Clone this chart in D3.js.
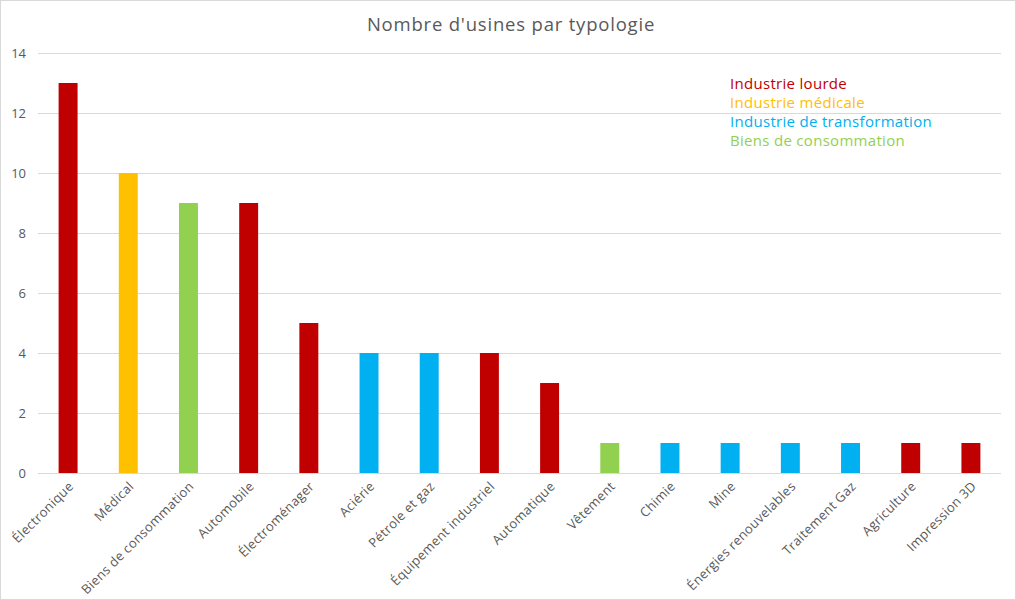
<!DOCTYPE html>
<html><head><meta charset="utf-8">
<script src="https://cdn.jsdelivr.net/npm/d3@7"></script>
<style>body{margin:0;background:#fff;} svg{display:block;font-family:"Open Sans","Lato",sans-serif;}</style>
</head><body>
<svg id="c" width="1016" height="600"></svg>
<script>
const categories = ["Électronique","Médical","Biens de consommation","Automobile","Électroménager","Aciérie","Pétrole et gaz","Équipement industriel","Automatique","Vêtement","Chimie","Mine","Énergies renouvelables","Traitement Gaz","Agriculture","Impression 3D"];
const values = [13,10,9,9,5,4,4,4,3,1,1,1,1,1,1,1];
const groups = ["lourde","medicale","conso","lourde","lourde","transfo","transfo","lourde","lourde","conso","transfo","transfo","transfo","transfo","lourde","lourde"];
const legendKeys = ["lourde","medicale","transfo","conso"];
const legendLabels = ["Industrie lourde","Industrie médicale","Industrie de transformation","Biens de consommation"];
const yTicks = [0,2,4,6,8,10,12,14];
const title = "Nombre d'usines par typologie";

const colors = {lourde:"#C00000", medicale:"#FFC000", transfo:"#00B0F0", conso:"#92D050"};
const svg = d3.select("#c");
svg.append("rect").attr("x",0.5).attr("y",0.5).attr("width",1015).attr("height",599).attr("fill","#fff").attr("stroke","#d9d9d9");

const x = d3.scaleBand().domain(categories).range([38,1001]).paddingInner(0.685).paddingOuter(0.3425);
const y = d3.scaleLinear().domain([0,14]).range([473,53]);

svg.append("g").selectAll("line").data(yTicks).join("line")
  .attr("x1",38).attr("x2",1001).attr("y1",d=>y(d)+0.5).attr("y2",d=>y(d)+0.5)
  .attr("stroke","#d9d9d9").attr("stroke-width",1);

svg.append("g").selectAll("text").data(yTicks).join("text")
  .attr("x",26).attr("y",d=>y(d)).attr("dy","0.35em").attr("text-anchor","end")
  .attr("font-size",13).attr("fill","#595959").text(d=>d);

svg.append("g").selectAll("rect").data(categories).join("rect")
  .attr("x",d=>x(d)).attr("width",x.bandwidth())
  .attr("y",(d,i)=>y(values[i])).attr("height",(d,i)=>y(0)-y(values[i]))
  .attr("fill",(d,i)=>colors[groups[i]]);

svg.append("g").selectAll("text").data(categories).join("text")
  .attr("transform",d=>`translate(${x(d)+x.bandwidth()/2+3},${484}) rotate(-45)`)
  .attr("text-anchor","end").attr("dy","0.35em")
  .attr("font-size",13).attr("letter-spacing",0.3).attr("fill","#595959").text(d=>d);

svg.append("text").attr("x",511).attr("y",31).attr("text-anchor","middle")
  .attr("font-size",18.5).attr("letter-spacing",0.8).attr("fill","#595959").text(title);

svg.append("g").selectAll("text").data(legendKeys).join("text")
  .attr("x",730).attr("y",(d,i)=>89+i*19)
  .attr("font-size",15).attr("letter-spacing",0.3).attr("fill",d=>colors[d]).text((d,i)=>legendLabels[i]);
</script>
</body></html>
